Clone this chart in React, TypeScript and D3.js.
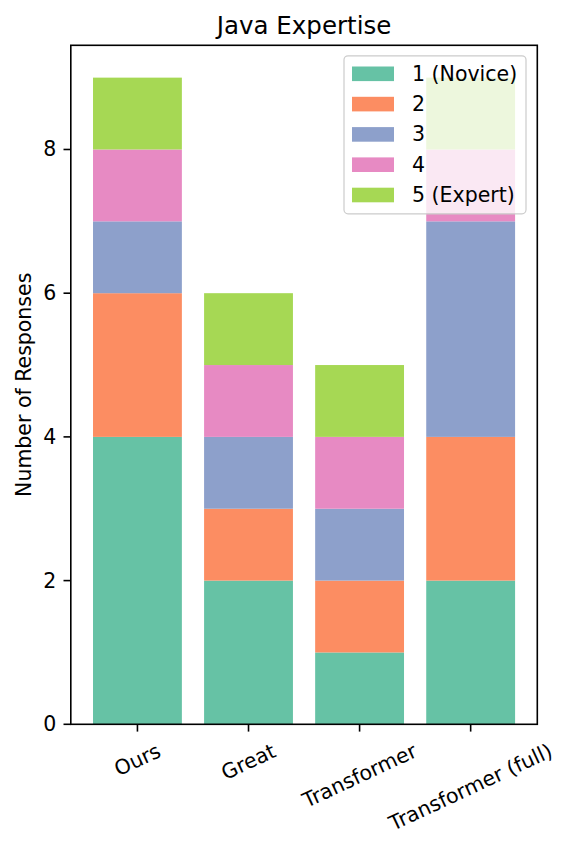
import React, { useEffect, useRef } from 'react';
import * as d3 from 'd3';

const categories = ['Ours', 'Great', 'Transformer', 'Transformer (full)'];
const levels = ['1 (Novice)', '2', '3', '4', '5 (Expert)'];
const novice = [4, 2, 1, 2];
const level2 = [2, 1, 1, 2];
const level3 = [1, 1, 1, 3];
const level4 = [1, 1, 1, 1];
const expert = [1, 1, 1, 1];
const yTicks = [0, 2, 4, 6, 8];
const colors = ['#66c2a5', '#fc8d62', '#8da0cb', '#e78ac3', '#a6d854'];

const App = () => {
  const svgRef = useRef<SVGSVGElement>(null);

  useEffect(() => {
    const width = 571;
    const height = 849;
    const left = 70.8, right = 537.3, top = 45.3, bottom = 724.3;
    const font = 'DejaVu Sans, sans-serif';
    const fs = 20.5;

    d3.select(svgRef.current).selectAll('*').remove();
    const svg = d3.select(svgRef.current)
      .attr('width', width)
      .attr('height', height);

    svg.append('rect').attr('width', width).attr('height', height).attr('fill', '#fff');

    // rows per category, one key per level
    const series = [novice, level2, level3, level4, expert];
    const rows = categories.map((c, i) => {
      const r: any = { cat: c };
      levels.forEach((l, j) => { r[l] = series[j][i]; });
      return r;
    });
    const stacked = d3.stack().keys(levels)(rows);

    const x = d3.scaleLinear().domain([-0.6, categories.length - 1 + 0.6]).range([left, right]);
    const y = d3.scaleLinear().domain([0, 9.45]).range([bottom, top]);
    const barW = x(0.8) - x(0);

    stacked.forEach((s, j) => {
      svg.append('g')
        .selectAll('rect')
        .data(s)
        .enter().append('rect')
        .attr('x', (d, i) => x(i) - barW / 2)
        .attr('y', d => y(d[1]))
        .attr('width', barW)
        .attr('height', d => y(d[0]) - y(d[1]))
        .attr('fill', colors[j]);
    });

    // spines
    svg.append('rect')
      .attr('x', left).attr('y', top)
      .attr('width', right - left).attr('height', bottom - top)
      .attr('fill', 'none').attr('stroke', '#000').attr('stroke-width', 1.6);

    // y axis
    const yAxis = svg.append('g');
    yTicks.forEach(t => {
      yAxis.append('line')
        .attr('x1', left).attr('x2', left - 7.3)
        .attr('y1', y(t)).attr('y2', y(t))
        .attr('stroke', '#000').attr('stroke-width', 1.6);
      yAxis.append('text')
        .attr('x', left - 14.6).attr('y', y(t))
        .attr('text-anchor', 'end').attr('dominant-baseline', 'central')
        .attr('font-family', font).attr('font-size', fs)
        .text(t);
    });

    svg.append('text')
      .attr('transform', `translate(24, ${(top + bottom) / 2}) rotate(-90)`)
      .attr('text-anchor', 'middle').attr('dominant-baseline', 'central')
      .attr('font-family', font).attr('font-size', fs)
      .text('Number of Responses');

    // x axis with rotated labels
    const xAxis = svg.append('g');
    const rad = (25 * Math.PI) / 180;
    categories.forEach((c, i) => {
      xAxis.append('line')
        .attr('x1', x(i)).attr('x2', x(i))
        .attr('y1', bottom).attr('y2', bottom + 7.3)
        .attr('stroke', '#000').attr('stroke-width', 1.6);
      const t = xAxis.append('text')
        .attr('text-anchor', 'middle').attr('dominant-baseline', 'central')
        .attr('font-family', font).attr('font-size', fs)
        .text(c);
      const w = (t.node() as SVGTextElement).getComputedTextLength();
      const h = fs * 1.16;
      const boxH = w * Math.sin(rad) + h * Math.cos(rad);
      t.attr('transform', `translate(${x(i)}, ${bottom + 14.6 + boxH / 2}) rotate(-25)`);
    });

    // title
    svg.append('text')
      .attr('x', (left + right) / 2).attr('y', 33.5)
      .attr('text-anchor', 'middle')
      .attr('font-family', font).attr('font-size', 24.5)
      .text('Java Expertise');

    // legend
    const lg = svg.append('g');
    lg.append('rect')
      .attr('x', 344).attr('y', 55.8)
      .attr('width', 182).attr('height', 158)
      .attr('rx', 4)
      .attr('fill', '#fff').attr('fill-opacity', 0.8)
      .attr('stroke', '#cccccc').attr('stroke-width', 1.2);
    levels.forEach((l, j) => {
      const cy = 73.8 + j * 30.3;
      lg.append('rect')
        .attr('x', 352).attr('y', cy - 7.3)
        .attr('width', 42).attr('height', 14.6)
        .attr('fill', colors[j]);
      lg.append('text')
        .attr('x', 412).attr('y', cy)
        .attr('dominant-baseline', 'central')
        .attr('font-family', font).attr('font-size', fs)
        .text(l);
    });
  }, []);

  return (
    <svg ref={svgRef} style={{ position: 'absolute', left: 0, top: 0 }}></svg>
  );
};

export default App;
